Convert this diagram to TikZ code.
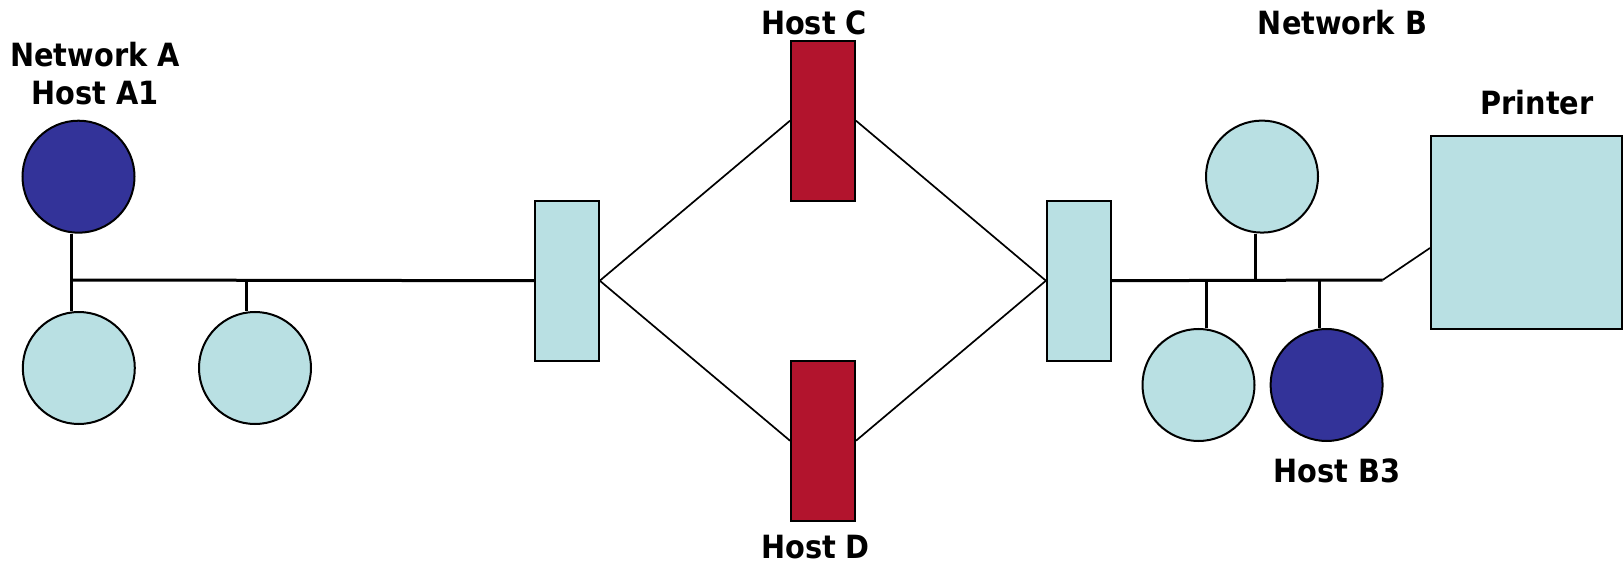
\documentclass[tikz,border=0pt]{standalone}
\usepackage{fontspec}
\newfontfamily\labfont{DejaVu Sans Condensed Bold}
\begin{document}
\begin{tikzpicture}[x=1pt,y=-1pt,
  lightc/.style={circle,draw=black,line width=2pt,fill=lightfill,minimum size=112pt,inner sep=0pt},
  darkc/.style={circle,draw=black,line width=2pt,fill=darkfill,minimum size=112pt,inner sep=0pt},
  router/.style={rectangle,draw=black,line width=2pt,fill=lightfill,minimum width=64pt,minimum height=160pt,inner sep=0pt},
  hostbox/.style={rectangle,draw=black,line width=2pt,fill=redfill,minimum width=64pt,minimum height=160pt,inner sep=0pt},
  printerbox/.style={rectangle,draw=black,line width=2pt,fill=lightfill,minimum width=191pt,minimum height=192pt,inner sep=0pt},
  lab/.style={font=\labfont\fontsize{32}{38}\selectfont,anchor=base,inner sep=0pt},
  bus/.style={line width=3pt},
  link/.style={line width=1.7pt}]
\definecolor{lightfill}{HTML}{B9E0E3}
\definecolor{darkfill}{HTML}{333399}
\definecolor{redfill}{HTML}{B2142D}
\useasboundingbox (0,0) rectangle (1623,564);
% nodes
\node[darkc]  (A1) at (78.5,176.7) {};
\node[lightc] (L1) at (78.8,368) {};
\node[lightc] (L2) at (255,368) {};
\node[router] (RA) at (566.8,280.7) {};
\node[hostbox] (HC) at (823,120.7) {};
\node[hostbox] (HD) at (823,440.7) {};
\node[router] (RB) at (1078.9,280.7) {};
\node[lightc] (B1) at (1262,176.6) {};
\node[lightc] (B2) at (1198.5,385) {};
\node[darkc]  (B3) at (1326.6,385) {};
\node[printerbox] (PR) at (1526.5,232.5) {};
% junctions
\coordinate (jA1) at (71.3,280);
\coordinate (jA2) at (246.3,280);
\coordinate (jB1) at (1255,280);
\coordinate (jB2) at (1206.2,280);
\coordinate (jB3) at (1319,280);
\coordinate (jBend) at (1382.6,280);
% network A
\draw[bus] ([xshift=-7.2pt]A1.south) -- ([xshift=-7.5pt]L1.north);
\draw[bus] (jA1) -- (RA.west);
\draw[bus] (jA2) -- ([xshift=-8.7pt]L2.north);
% WAN links
\draw[link] (RA.east) -- (HC.west);
\draw[link] (RA.east) -- (HD.west);
\draw[link] (HC.east) -- (RB.west);
\draw[link] (HD.east) -- (RB.west);
% network B
\draw[bus] (RB.east) -- (jBend);
\draw[bus] (jB1) -- ([xshift=-7pt]B1.south);
\draw[bus] (jB2) -- ([xshift=7.7pt]B2.north);
\draw[bus] (jB3) -- ([xshift=-7.6pt]B3.north);
\draw[link] (jBend) -- ([yshift=-15.5pt]PR.west);
% labels
\node[lab] (tNA) at (95,66.7) {Network A};
\node[lab] (tA1) at (95,105) {Host A1};
\node[lab] (tHC) at (814,35) {Host C};
\node[lab] (tHD) at (815.5,558.5) {Host D};
\node[lab] (tNB) at (1342.5,35) {Network B};
\node[lab] (tPR) at (1537,115) {Printer};
\node[lab] (tB3) at (1337,482.7) {Host B3};
\end{tikzpicture}
\end{document}
